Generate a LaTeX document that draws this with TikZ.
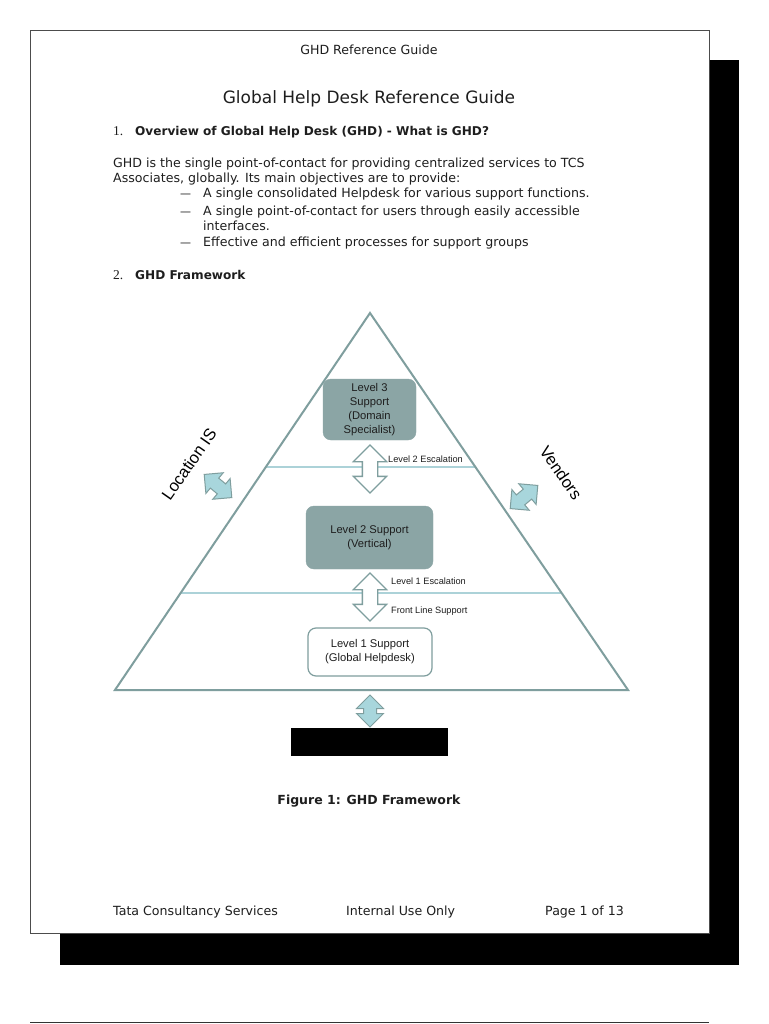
\documentclass[tikz,border=0pt]{standalone}
\usepackage{fontspec}
\setmainfont{DejaVu Sans}
\newfontfamily\figfont{Liberation Sans}
\newfontfamily\numfont{Liberation Serif}
\usetikzlibrary{shapes.arrows, positioning, calc}

\definecolor{edgegrey}{RGB}{127,158,158}
\definecolor{boxgrey}{RGB}{139,165,165}
\definecolor{paleblue}{RGB}{168,214,220}
\definecolor{lineblue}{RGB}{172,210,216}
\definecolor{inkgrey}{RGB}{30,30,30}

\tikzstyle{level} = [
    rectangle,
    rounded corners=8pt,
    draw=boxgrey,
    fill=boxgrey,
    align=center,
    text=inkgrey,
    font=\figfont\fontsize{11.2}{14}\selectfont
]
\tikzstyle{levelfront} = [
    level,
    fill=white,
    draw=edgegrey,
    line width=1.2pt
]
\tikzstyle{updown} = [
    double arrow,
    draw=edgegrey,
    line width=1.3pt,
    fill=white,
    rotate=90,
    inner sep=7pt,
    double arrow head extend=9pt,
    minimum height=48pt
]
\tikzstyle{linkarrow} = [
    updown,
    fill=paleblue,
    line width=1pt,
    inner sep=6pt,
    double arrow head extend=7pt,
    minimum height=34pt
]
\tikzstyle{esclabel} = [
    anchor=west,
    inner sep=0pt,
    text=inkgrey,
    font=\figfont\fontsize{9.2}{10}\selectfont
]
\tikzstyle{sidelabel} = [
    text=black,
    inner sep=1pt,
    font=\figfont\fontsize{16.5}{18}\selectfont
]
\tikzstyle{doctext} = [
    anchor=base west,
    inner sep=0pt,
    text=inkgrey,
    font=\fontsize{12.6}{15}\selectfont
]
\tikzstyle{bulletdash} = [
    doctext,
    font=\fontsize{11}{15}\selectfont
]
\tikzstyle{tier} = [lineblue, line width=1.5pt]
\tikzstyle{edge} = [edgegrey, line width=2pt, line join=miter]

\begin{document}
\begin{tikzpicture}[x=1pt, y=-1pt]

\useasboundingbox (0,0) rectangle (768,1024);

% page with its shadow
\fill[black] (709,60) rectangle (739,965);
\fill[black] (60,933) rectangle (739,965);
\draw[fill=white, draw=black!70, line width=0.8pt] (30,30) rectangle (709,933);
\draw[black!80, line width=0.8pt] (30,1022) -- (709,1022);

% header and text
\node (header) [doctext, anchor=base] at (369,55) {GHD Reference Guide};
\node (title) [doctext, anchor=base, font=\fontsize{17}{20}\selectfont] at (369,104)
{Global Help Desk Reference Guide};

\node (num1) [doctext, font=\numfont\fontsize{13.5}{15}\selectfont] at (113,136) {1.};
\node (head1) [doctext, font=\bfseries\fontsize{12.1}{14}\selectfont] at (135,136)
{Overview of Global Help Desk (GHD) - What is GHD?};

\node (para1) [doctext] at (113,168)
{GHD is the single point-of-contact for providing centralized services to TCS};
\node (para2) [doctext] at (113,183)
{Associates, globally. Its main objectives are to provide:};

\node (dash1) [bulletdash] at (180,198) {---};
\node (item1) [doctext] at (203,198)
{A single consolidated Helpdesk for various support functions.};
\node (dash2) [bulletdash] at (180,216) {---};
\node (item2) [doctext] at (203,216)
{A single point-of-contact for users through easily accessible};
\node (item2b) [doctext] at (203,231) {interfaces.};
\node (dash3) [bulletdash] at (180,247) {---};
\node (item3) [doctext] at (203,247)
{Effective and efficient processes for support groups};

\node (num2) [doctext, font=\numfont\fontsize{13.5}{15}\selectfont] at (113,279) {2.};
\node (head2) [doctext, font=\bfseries\fontsize{12.1}{14}\selectfont] at (135,279)
{GHD Framework};

% pyramid
\coordinate (apex) at (370,313);
\coordinate (baseL) at (115,690);
\coordinate (baseR) at (628,690);

\draw[tier] ($(apex)!0.408!(baseL)$) -- ($(apex)!0.408!(baseR)$);
\draw[tier] ($(apex)!0.743!(baseL)$) -- ($(apex)!0.743!(baseR)$);
\draw[edge] (apex) -- (baseR) -- (baseL) -- cycle;

\node (lvl3) [level, minimum width=93pt, minimum height=61pt] at (369.5,409.5)
{Level 3\\Support\\(Domain\\Specialist)};
\node (lvl2) [level, minimum width=127pt, minimum height=63pt] at (369.5,537.5)
{Level 2 Support\\(Vertical)};
\node (lvl1) [levelfront, minimum width=124pt, minimum height=48pt] at (370,652)
{Level 1 Support\\(Global Helpdesk)};

\node (esc2) [updown] at (370,469) {};
\node (esc1) [updown] at (370,597) {};
\node (esc2txt) [esclabel] at (388,459) {Level 2 Escalation};
\node (esc1txt) [esclabel] at (391,581) {Level 1 Escalation};
\node (fronttxt) [esclabel] at (391,611) {Front Line Support};

% outside the pyramid
\node (locis) [sidelabel, rotate=55] at (189,464) {Location IS};
\node (vendors) [sidelabel, rotate=-55] at (561,473) {Vendors};
\node (locarrow) [linkarrow, rotate=-130, minimum height=36pt] at (218,486) {};
\node (vendarrow) [linkarrow, rotate=-50, minimum height=36pt] at (524,497) {};

\node (redacted) [rectangle, fill=black, minimum width=157pt, minimum height=28pt] at (369.5,742) {};
\node (userarrow) [linkarrow, minimum height=32pt] at (370,711) {};

\node (caption) [doctext, anchor=base, font=\bfseries\fontsize{12.5}{14}\selectfont] at (369,804)
{Figure 1: GHD Framework};

% footer
\node (foot1) [doctext] at (113,915) {Tata Consultancy Services};
\node (foot2) [doctext] at (346,915) {Internal Use Only};
\node (foot3) [doctext] at (545,915) {Page 1 of 13};

\end{tikzpicture}
\end{document}
